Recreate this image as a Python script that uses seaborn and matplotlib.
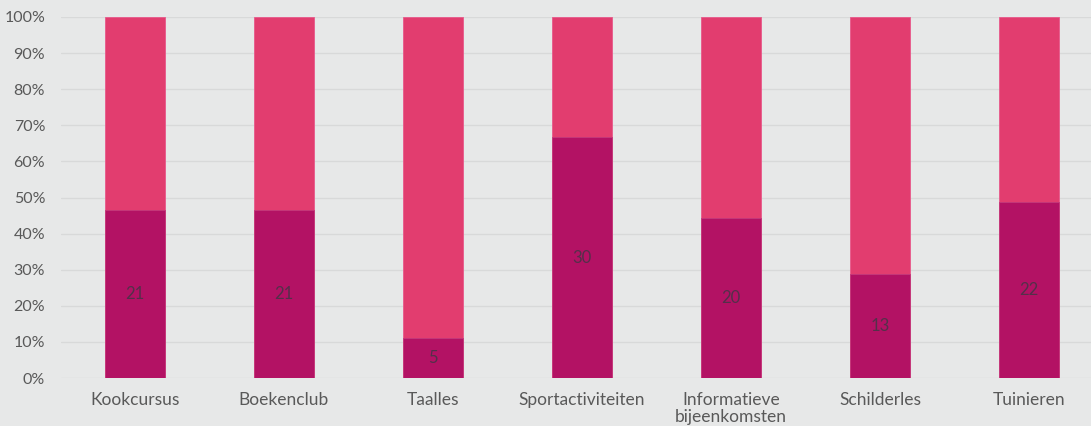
import numpy as np
import pandas as pd
import matplotlib.pyplot as plt
import seaborn as sns
from matplotlib.ticker import PercentFormatter

categories = ['Kookcursus', 'Boekenclub', 'Taalles', 'Sportactiviteiten',
              'Informatieve\nbijeenkomsten', 'Schilderles', 'Tuinieren']
ja = [21, 21, 5, 30, 20, 13, 22]
nee = [24, 24, 40, 15, 25, 32, 23]

df = pd.DataFrame({'activiteit': categories, 'ja': ja, 'nee': nee})
df['totaal'] = df['ja'] + df['nee']
df['ja_pct'] = df['ja'] / df['totaal'] * 100
df['top_pct'] = 100.0

sns.set_theme(style='white')
plt.rcParams['font.family'] = ['Lato', 'DejaVu Sans']

bg = '#e7e8e8'
fig = plt.figure(figsize=(10.91, 4.26), dpi=100, facecolor=bg)
ax = fig.add_axes([60.5 / 1091, 48 / 426, 1043 / 1091, 361 / 426])
ax.set_facecolor(bg)

sns.barplot(data=df, x='activiteit', y='top_pct', color='#e23d6f', width=0.4,
            saturation=1, edgecolor='#e8588a', linewidth=0.6, ax=ax, zorder=2)
sns.barplot(data=df, x='activiteit', y='ja_pct', color='#b31264', width=0.4,
            saturation=1, edgecolor='#c43a7c', linewidth=0.6, ax=ax, zorder=3)

for i, row in df.iterrows():
    ax.text(i, row['ja_pct'] / 2, str(row['ja']), ha='center', va='center',
            fontsize=12, color='#54304a', zorder=4)

ax.set_ylim(0, 100)
ax.set_xlim(-0.5, 6.5)
ax.set_yticks(np.arange(0, 101, 10))
ax.yaxis.set_major_formatter(PercentFormatter(decimals=0))
ax.grid(axis='y', color='#d8d9d9', linewidth=1, zorder=0)
ax.set_axisbelow(True)
for s in ax.spines.values():
    s.set_visible(False)
ax.set_xlabel('')
ax.set_ylabel('')
ax.tick_params(axis='both', length=0, colors='#595959')
ax.tick_params(axis='x', pad=10, labelsize=12.5)
ax.tick_params(axis='y', pad=11, labelsize=11.5)
for lbl in ax.get_xticklabels():
    lbl.set_linespacing(1.05)

fig.savefig('out.png', dpi=100, facecolor=bg)
